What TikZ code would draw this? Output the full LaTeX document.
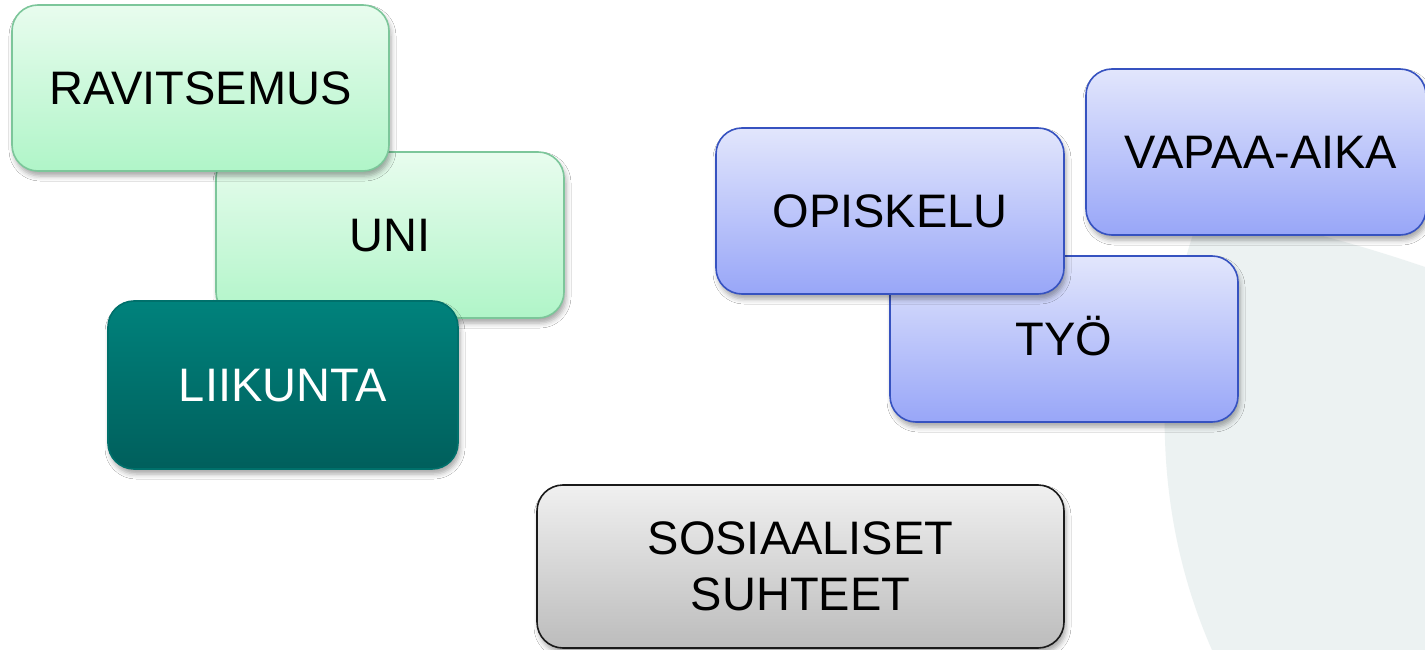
\documentclass[tikz,border=0pt]{standalone}
\usepackage{fontspec}
\setmainfont{Liberation Sans}
\usetikzlibrary{shadows.blur}
\definecolor{bgshape}{HTML}{ECF2F2}
\definecolor{grtop}{HTML}{E8FCEE}
\definecolor{grbot}{HTML}{B0F5C8}
\definecolor{grline}{HTML}{7CC69A}
\definecolor{tltop}{HTML}{00827C}
\definecolor{tlbot}{HTML}{005F5C}
\definecolor{tlline}{HTML}{00706B}
\definecolor{bltop}{HTML}{E2E6FC}
\definecolor{blbot}{HTML}{98A6F8}
\definecolor{blline}{HTML}{3652C0}
\definecolor{gytop}{HTML}{F0F0F0}
\definecolor{gybot}{HTML}{BCBCBC}
\definecolor{gyline}{HTML}{1A1A1A}
\tikzset{
  box/.style={rounded corners=26pt, line width=1.6pt, inner sep=0pt,
    minimum height=166pt, font=\fontsize{47}{56}\selectfont,
    blur shadow={shadow xshift=2pt, shadow yshift=-5pt, shadow blur radius=5pt, shadow opacity=35}},
  oneline/.style={text height=33.6pt, text depth=0pt},
  greenbox/.style={box, oneline, draw=grline, top color=grtop, bottom color=grbot, text=black},
  tealbox/.style={box, oneline, draw=tlline, top color=tltop, bottom color=tlbot, text=white},
  bluebox/.style={box, oneline, draw=blline, top color=bltop, bottom color=blbot, text=black},
  graybox/.style={box, draw=gyline, top color=gytop, bottom color=gybot, text=black, align=center}
}
\begin{document}
\begin{tikzpicture}[x=1pt,y=-1pt]
\useasboundingbox (0,0) rectangle (1425,650);
\fill[white] (0,0) rectangle (1425,650);
% background decorative shape
\fill[bgshape] (1425,267) .. controls (1340,238) and (1250,215) .. (1200,215)
  .. controls (1175,280) and (1162,360) .. (1165,440)
  .. controls (1168,530) and (1190,600) .. (1212,650)
  -- (1425,650) -- cycle;
% left group
\node[greenbox, minimum width=348pt] (uni) at (390,235) {UNI};
\node[greenbox, minimum width=377pt] (rav) at (200.5,88) {RAVITSEMUS};
\node[tealbox, minimum width=350pt, minimum height=168pt] (lii) at (283,385) {LIIKUNTA};
% right group
\node[bluebox, minimum width=348pt] (tyo) at (1064,339) {TYÖ};
\node[bluebox, minimum width=348pt] (opi) at (890,211) {OPISKELU};
\node[bluebox, minimum width=340pt] (vap) at (1256,152) {\hspace*{10pt}VAPAA-AIKA};
% bottom
\node[graybox, minimum width=527pt, minimum height=163pt] (sos) at (800.5,566.5) {SOSIAALISET\\SUHTEET};
\end{tikzpicture}
\end{document}
